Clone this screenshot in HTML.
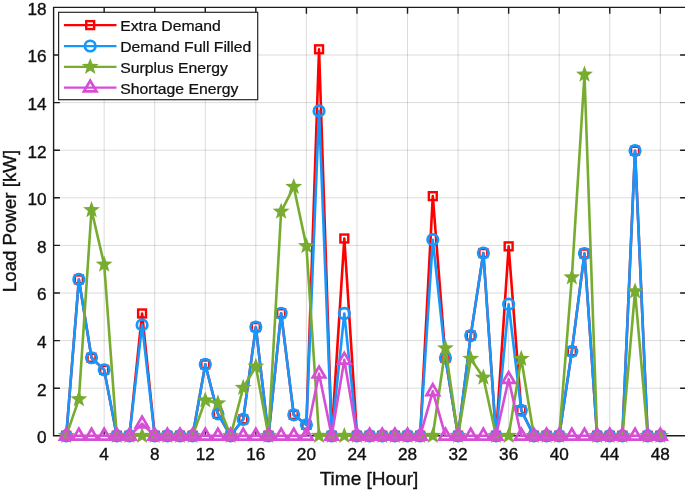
<!DOCTYPE html>
<html><head><meta charset="utf-8"><title>Load Power</title>
<style>html,body{margin:0;padding:0;background:#fff;overflow:hidden}svg{display:block}</style></head>
<body>
<svg width="685" height="491" viewBox="0 0 685 491" style="display:block">
<rect width="685" height="491" fill="#fff"/>
<path d="M104.16 7.40V435.80M154.72 7.40V435.80M205.28 7.40V435.80M255.84 7.40V435.80M306.40 7.40V435.80M356.96 7.40V435.80M407.52 7.40V435.80M458.08 7.40V435.80M508.64 7.40V435.80M559.20 7.40V435.80M609.76 7.40V435.80M660.32 7.40V435.80" stroke="#000" stroke-opacity="0.14" stroke-width="1" fill="none"/>
<path d="M53.60 388.20H686.40M53.60 340.60H686.40M53.60 293.00H686.40M53.60 245.40H686.40M53.60 197.80H686.40M53.60 150.20H686.40M53.60 102.60H686.40M53.60 55.00H686.40" stroke="#000" stroke-opacity="0.14" stroke-width="1" fill="none"/>
<path d="M53.60 7.40H686.40V435.80H53.60ZM104.16 7.40v6.3M104.16 435.80v-6.3M154.72 7.40v6.3M154.72 435.80v-6.3M205.28 7.40v6.3M205.28 435.80v-6.3M255.84 7.40v6.3M255.84 435.80v-6.3M306.40 7.40v6.3M306.40 435.80v-6.3M356.96 7.40v6.3M356.96 435.80v-6.3M407.52 7.40v6.3M407.52 435.80v-6.3M458.08 7.40v6.3M458.08 435.80v-6.3M508.64 7.40v6.3M508.64 435.80v-6.3M559.20 7.40v6.3M559.20 435.80v-6.3M609.76 7.40v6.3M609.76 435.80v-6.3M660.32 7.40v6.3M660.32 435.80v-6.3M53.60 388.20h6.3M686.40 388.20h-6.3M53.60 340.60h6.3M686.40 340.60h-6.3M53.60 293.00h6.3M686.40 293.00h-6.3M53.60 245.40h6.3M686.40 245.40h-6.3M53.60 197.80h6.3M686.40 197.80h-6.3M53.60 150.20h6.3M686.40 150.20h-6.3M53.60 102.60h6.3M686.40 102.60h-6.3M53.60 55.00h6.3M686.40 55.00h-6.3" stroke="#1c1c1c" stroke-width="1.4" fill="none"/>
<g>
<polyline points="66.24,435.80 78.88,279.43 91.52,357.74 104.16,369.87 116.80,435.80 129.44,435.80 142.08,313.47 154.72,435.80 167.36,435.80 180.00,435.80 192.64,435.80 205.28,364.40 217.92,413.90 230.56,435.80 243.20,419.38 255.84,327.03 268.48,435.80 281.12,313.23 293.76,414.86 306.40,424.85 319.04,49.29 331.68,435.80 344.32,238.50 356.96,435.80 369.60,435.80 382.24,435.80 394.88,435.80 407.52,435.80 420.16,435.80 432.80,196.13 445.44,357.97 458.08,435.80 470.72,335.60 483.36,253.02 496.00,435.80 508.64,246.35 521.28,410.33 533.92,435.80 546.56,435.80 559.20,435.80 571.84,351.31 584.48,253.49 597.12,435.80 609.76,435.80 622.40,435.80 635.04,150.68 647.68,435.80 660.32,435.80" fill="none" stroke="#FF0000" stroke-width="2.6" stroke-linejoin="round"/>
<rect x="62.29" y="431.85" width="7.9" height="7.9" fill="none" stroke="#FF0000" stroke-width="2.4"/>
<rect x="74.93" y="275.48" width="7.9" height="7.9" fill="none" stroke="#FF0000" stroke-width="2.4"/>
<rect x="87.57" y="353.79" width="7.9" height="7.9" fill="none" stroke="#FF0000" stroke-width="2.4"/>
<rect x="100.21" y="365.92" width="7.9" height="7.9" fill="none" stroke="#FF0000" stroke-width="2.4"/>
<rect x="112.85" y="431.85" width="7.9" height="7.9" fill="none" stroke="#FF0000" stroke-width="2.4"/>
<rect x="125.49" y="431.85" width="7.9" height="7.9" fill="none" stroke="#FF0000" stroke-width="2.4"/>
<rect x="138.13" y="309.52" width="7.9" height="7.9" fill="none" stroke="#FF0000" stroke-width="2.4"/>
<rect x="150.77" y="431.85" width="7.9" height="7.9" fill="none" stroke="#FF0000" stroke-width="2.4"/>
<rect x="163.41" y="431.85" width="7.9" height="7.9" fill="none" stroke="#FF0000" stroke-width="2.4"/>
<rect x="176.05" y="431.85" width="7.9" height="7.9" fill="none" stroke="#FF0000" stroke-width="2.4"/>
<rect x="188.69" y="431.85" width="7.9" height="7.9" fill="none" stroke="#FF0000" stroke-width="2.4"/>
<rect x="201.33" y="360.45" width="7.9" height="7.9" fill="none" stroke="#FF0000" stroke-width="2.4"/>
<rect x="213.97" y="409.95" width="7.9" height="7.9" fill="none" stroke="#FF0000" stroke-width="2.4"/>
<rect x="226.61" y="431.85" width="7.9" height="7.9" fill="none" stroke="#FF0000" stroke-width="2.4"/>
<rect x="239.25" y="415.43" width="7.9" height="7.9" fill="none" stroke="#FF0000" stroke-width="2.4"/>
<rect x="251.89" y="323.08" width="7.9" height="7.9" fill="none" stroke="#FF0000" stroke-width="2.4"/>
<rect x="264.53" y="431.85" width="7.9" height="7.9" fill="none" stroke="#FF0000" stroke-width="2.4"/>
<rect x="277.17" y="309.28" width="7.9" height="7.9" fill="none" stroke="#FF0000" stroke-width="2.4"/>
<rect x="289.81" y="410.91" width="7.9" height="7.9" fill="none" stroke="#FF0000" stroke-width="2.4"/>
<rect x="302.45" y="420.90" width="7.9" height="7.9" fill="none" stroke="#FF0000" stroke-width="2.4"/>
<rect x="315.09" y="45.34" width="7.9" height="7.9" fill="none" stroke="#FF0000" stroke-width="2.4"/>
<rect x="327.73" y="431.85" width="7.9" height="7.9" fill="none" stroke="#FF0000" stroke-width="2.4"/>
<rect x="340.37" y="234.55" width="7.9" height="7.9" fill="none" stroke="#FF0000" stroke-width="2.4"/>
<rect x="353.01" y="431.85" width="7.9" height="7.9" fill="none" stroke="#FF0000" stroke-width="2.4"/>
<rect x="365.65" y="431.85" width="7.9" height="7.9" fill="none" stroke="#FF0000" stroke-width="2.4"/>
<rect x="378.29" y="431.85" width="7.9" height="7.9" fill="none" stroke="#FF0000" stroke-width="2.4"/>
<rect x="390.93" y="431.85" width="7.9" height="7.9" fill="none" stroke="#FF0000" stroke-width="2.4"/>
<rect x="403.57" y="431.85" width="7.9" height="7.9" fill="none" stroke="#FF0000" stroke-width="2.4"/>
<rect x="416.21" y="431.85" width="7.9" height="7.9" fill="none" stroke="#FF0000" stroke-width="2.4"/>
<rect x="428.85" y="192.18" width="7.9" height="7.9" fill="none" stroke="#FF0000" stroke-width="2.4"/>
<rect x="441.49" y="354.02" width="7.9" height="7.9" fill="none" stroke="#FF0000" stroke-width="2.4"/>
<rect x="454.13" y="431.85" width="7.9" height="7.9" fill="none" stroke="#FF0000" stroke-width="2.4"/>
<rect x="466.77" y="331.65" width="7.9" height="7.9" fill="none" stroke="#FF0000" stroke-width="2.4"/>
<rect x="479.41" y="249.07" width="7.9" height="7.9" fill="none" stroke="#FF0000" stroke-width="2.4"/>
<rect x="492.05" y="431.85" width="7.9" height="7.9" fill="none" stroke="#FF0000" stroke-width="2.4"/>
<rect x="504.69" y="242.40" width="7.9" height="7.9" fill="none" stroke="#FF0000" stroke-width="2.4"/>
<rect x="517.33" y="406.38" width="7.9" height="7.9" fill="none" stroke="#FF0000" stroke-width="2.4"/>
<rect x="529.97" y="431.85" width="7.9" height="7.9" fill="none" stroke="#FF0000" stroke-width="2.4"/>
<rect x="542.61" y="431.85" width="7.9" height="7.9" fill="none" stroke="#FF0000" stroke-width="2.4"/>
<rect x="555.25" y="431.85" width="7.9" height="7.9" fill="none" stroke="#FF0000" stroke-width="2.4"/>
<rect x="567.89" y="347.36" width="7.9" height="7.9" fill="none" stroke="#FF0000" stroke-width="2.4"/>
<rect x="580.53" y="249.54" width="7.9" height="7.9" fill="none" stroke="#FF0000" stroke-width="2.4"/>
<rect x="593.17" y="431.85" width="7.9" height="7.9" fill="none" stroke="#FF0000" stroke-width="2.4"/>
<rect x="605.81" y="431.85" width="7.9" height="7.9" fill="none" stroke="#FF0000" stroke-width="2.4"/>
<rect x="618.45" y="431.85" width="7.9" height="7.9" fill="none" stroke="#FF0000" stroke-width="2.4"/>
<rect x="631.09" y="146.73" width="7.9" height="7.9" fill="none" stroke="#FF0000" stroke-width="2.4"/>
<rect x="643.73" y="431.85" width="7.9" height="7.9" fill="none" stroke="#FF0000" stroke-width="2.4"/>
<rect x="656.37" y="431.85" width="7.9" height="7.9" fill="none" stroke="#FF0000" stroke-width="2.4"/>
</g>
<g>
<polyline points="66.24,435.80 78.88,279.43 91.52,357.74 104.16,369.87 116.80,435.80 129.44,435.80 142.08,324.89 154.72,435.80 167.36,435.80 180.00,435.80 192.64,435.80 205.28,364.40 217.92,413.90 230.56,435.80 243.20,419.38 255.84,327.03 268.48,435.80 281.12,313.23 293.76,414.86 306.40,424.85 319.04,110.93 331.68,435.80 344.32,313.47 356.96,435.80 369.60,435.80 382.24,435.80 394.88,435.80 407.52,435.80 420.16,435.80 432.80,239.69 445.44,357.97 458.08,435.80 470.72,335.60 483.36,253.02 496.00,435.80 508.64,304.19 521.28,410.33 533.92,435.80 546.56,435.80 559.20,435.80 571.84,351.31 584.48,253.49 597.12,435.80 609.76,435.80 622.40,435.80 635.04,150.68 647.68,435.80 660.32,435.80" fill="none" stroke="#1498FE" stroke-width="2.6" stroke-linejoin="round"/>
<circle cx="66.24" cy="435.80" r="5.25" fill="none" stroke="#1498FE" stroke-width="2.7"/>
<circle cx="78.88" cy="279.43" r="5.25" fill="none" stroke="#1498FE" stroke-width="2.7"/>
<circle cx="91.52" cy="357.74" r="5.25" fill="none" stroke="#1498FE" stroke-width="2.7"/>
<circle cx="104.16" cy="369.87" r="5.25" fill="none" stroke="#1498FE" stroke-width="2.7"/>
<circle cx="116.80" cy="435.80" r="5.25" fill="none" stroke="#1498FE" stroke-width="2.7"/>
<circle cx="129.44" cy="435.80" r="5.25" fill="none" stroke="#1498FE" stroke-width="2.7"/>
<circle cx="142.08" cy="324.89" r="5.25" fill="none" stroke="#1498FE" stroke-width="2.7"/>
<circle cx="154.72" cy="435.80" r="5.25" fill="none" stroke="#1498FE" stroke-width="2.7"/>
<circle cx="167.36" cy="435.80" r="5.25" fill="none" stroke="#1498FE" stroke-width="2.7"/>
<circle cx="180.00" cy="435.80" r="5.25" fill="none" stroke="#1498FE" stroke-width="2.7"/>
<circle cx="192.64" cy="435.80" r="5.25" fill="none" stroke="#1498FE" stroke-width="2.7"/>
<circle cx="205.28" cy="364.40" r="5.25" fill="none" stroke="#1498FE" stroke-width="2.7"/>
<circle cx="217.92" cy="413.90" r="5.25" fill="none" stroke="#1498FE" stroke-width="2.7"/>
<circle cx="230.56" cy="435.80" r="5.25" fill="none" stroke="#1498FE" stroke-width="2.7"/>
<circle cx="243.20" cy="419.38" r="5.25" fill="none" stroke="#1498FE" stroke-width="2.7"/>
<circle cx="255.84" cy="327.03" r="5.25" fill="none" stroke="#1498FE" stroke-width="2.7"/>
<circle cx="268.48" cy="435.80" r="5.25" fill="none" stroke="#1498FE" stroke-width="2.7"/>
<circle cx="281.12" cy="313.23" r="5.25" fill="none" stroke="#1498FE" stroke-width="2.7"/>
<circle cx="293.76" cy="414.86" r="5.25" fill="none" stroke="#1498FE" stroke-width="2.7"/>
<circle cx="306.40" cy="424.85" r="5.25" fill="none" stroke="#1498FE" stroke-width="2.7"/>
<circle cx="319.04" cy="110.93" r="5.25" fill="none" stroke="#1498FE" stroke-width="2.7"/>
<circle cx="331.68" cy="435.80" r="5.25" fill="none" stroke="#1498FE" stroke-width="2.7"/>
<circle cx="344.32" cy="313.47" r="5.25" fill="none" stroke="#1498FE" stroke-width="2.7"/>
<circle cx="356.96" cy="435.80" r="5.25" fill="none" stroke="#1498FE" stroke-width="2.7"/>
<circle cx="369.60" cy="435.80" r="5.25" fill="none" stroke="#1498FE" stroke-width="2.7"/>
<circle cx="382.24" cy="435.80" r="5.25" fill="none" stroke="#1498FE" stroke-width="2.7"/>
<circle cx="394.88" cy="435.80" r="5.25" fill="none" stroke="#1498FE" stroke-width="2.7"/>
<circle cx="407.52" cy="435.80" r="5.25" fill="none" stroke="#1498FE" stroke-width="2.7"/>
<circle cx="420.16" cy="435.80" r="5.25" fill="none" stroke="#1498FE" stroke-width="2.7"/>
<circle cx="432.80" cy="239.69" r="5.25" fill="none" stroke="#1498FE" stroke-width="2.7"/>
<circle cx="445.44" cy="357.97" r="5.25" fill="none" stroke="#1498FE" stroke-width="2.7"/>
<circle cx="458.08" cy="435.80" r="5.25" fill="none" stroke="#1498FE" stroke-width="2.7"/>
<circle cx="470.72" cy="335.60" r="5.25" fill="none" stroke="#1498FE" stroke-width="2.7"/>
<circle cx="483.36" cy="253.02" r="5.25" fill="none" stroke="#1498FE" stroke-width="2.7"/>
<circle cx="496.00" cy="435.80" r="5.25" fill="none" stroke="#1498FE" stroke-width="2.7"/>
<circle cx="508.64" cy="304.19" r="5.25" fill="none" stroke="#1498FE" stroke-width="2.7"/>
<circle cx="521.28" cy="410.33" r="5.25" fill="none" stroke="#1498FE" stroke-width="2.7"/>
<circle cx="533.92" cy="435.80" r="5.25" fill="none" stroke="#1498FE" stroke-width="2.7"/>
<circle cx="546.56" cy="435.80" r="5.25" fill="none" stroke="#1498FE" stroke-width="2.7"/>
<circle cx="559.20" cy="435.80" r="5.25" fill="none" stroke="#1498FE" stroke-width="2.7"/>
<circle cx="571.84" cy="351.31" r="5.25" fill="none" stroke="#1498FE" stroke-width="2.7"/>
<circle cx="584.48" cy="253.49" r="5.25" fill="none" stroke="#1498FE" stroke-width="2.7"/>
<circle cx="597.12" cy="435.80" r="5.25" fill="none" stroke="#1498FE" stroke-width="2.7"/>
<circle cx="609.76" cy="435.80" r="5.25" fill="none" stroke="#1498FE" stroke-width="2.7"/>
<circle cx="622.40" cy="435.80" r="5.25" fill="none" stroke="#1498FE" stroke-width="2.7"/>
<circle cx="635.04" cy="150.68" r="5.25" fill="none" stroke="#1498FE" stroke-width="2.7"/>
<circle cx="647.68" cy="435.80" r="5.25" fill="none" stroke="#1498FE" stroke-width="2.7"/>
<circle cx="660.32" cy="435.80" r="5.25" fill="none" stroke="#1498FE" stroke-width="2.7"/>
</g>
<g>
<polyline points="66.24,435.80 78.88,399.15 91.52,209.94 104.16,264.44 116.80,435.80 129.44,435.80 142.08,435.80 154.72,435.80 167.36,435.80 180.00,435.80 192.64,435.80 205.28,400.34 217.92,403.19 230.56,435.80 243.20,387.72 255.84,366.54 268.48,435.80 281.12,211.60 293.76,186.85 306.40,246.11 319.04,435.80 331.68,435.80 344.32,435.80 356.96,435.80 369.60,435.80 382.24,435.80 394.88,435.80 407.52,435.80 420.16,435.80 432.80,435.80 445.44,348.22 458.08,435.80 470.72,358.69 483.36,377.49 496.00,435.80 508.64,435.80 521.28,358.69 533.92,435.80 546.56,435.80 559.20,435.80 571.84,277.29 584.48,74.52 597.12,435.80 609.76,435.80 622.40,435.80 635.04,291.33 647.68,435.80 660.32,435.80" fill="none" stroke="#77AC30" stroke-width="2.6" stroke-linejoin="round"/>
<polygon points="66.24,426.90 68.44,432.78 74.70,433.05 69.80,436.96 71.47,443.00 66.24,439.54 61.01,443.00 62.68,436.96 57.78,433.05 64.04,432.78" fill="#77AC30"/>
<polygon points="78.88,390.25 81.08,396.12 87.34,396.40 82.44,400.30 84.11,406.35 78.88,402.89 73.65,406.35 75.32,400.30 70.42,396.40 76.68,396.12" fill="#77AC30"/>
<polygon points="91.52,201.04 93.72,206.91 99.98,207.19 95.08,211.09 96.75,217.14 91.52,213.68 86.29,217.14 87.96,211.09 83.06,207.19 89.32,206.91" fill="#77AC30"/>
<polygon points="104.16,255.54 106.36,261.42 112.62,261.69 107.72,265.60 109.39,271.64 104.16,268.18 98.93,271.64 100.60,265.60 95.70,261.69 101.96,261.42" fill="#77AC30"/>
<polygon points="116.80,426.90 119.00,432.78 125.26,433.05 120.36,436.96 122.03,443.00 116.80,439.54 111.57,443.00 113.24,436.96 108.34,433.05 114.60,432.78" fill="#77AC30"/>
<polygon points="129.44,426.90 131.64,432.78 137.90,433.05 133.00,436.96 134.67,443.00 129.44,439.54 124.21,443.00 125.88,436.96 120.98,433.05 127.24,432.78" fill="#77AC30"/>
<polygon points="142.08,426.90 144.28,432.78 150.54,433.05 145.64,436.96 147.31,443.00 142.08,439.54 136.85,443.00 138.52,436.96 133.62,433.05 139.88,432.78" fill="#77AC30"/>
<polygon points="154.72,426.90 156.92,432.78 163.18,433.05 158.28,436.96 159.95,443.00 154.72,439.54 149.49,443.00 151.16,436.96 146.26,433.05 152.52,432.78" fill="#77AC30"/>
<polygon points="167.36,426.90 169.56,432.78 175.82,433.05 170.92,436.96 172.59,443.00 167.36,439.54 162.13,443.00 163.80,436.96 158.90,433.05 165.16,432.78" fill="#77AC30"/>
<polygon points="180.00,426.90 182.20,432.78 188.46,433.05 183.56,436.96 185.23,443.00 180.00,439.54 174.77,443.00 176.44,436.96 171.54,433.05 177.80,432.78" fill="#77AC30"/>
<polygon points="192.64,426.90 194.84,432.78 201.10,433.05 196.20,436.96 197.87,443.00 192.64,439.54 187.41,443.00 189.08,436.96 184.18,433.05 190.44,432.78" fill="#77AC30"/>
<polygon points="205.28,391.44 207.48,397.31 213.74,397.59 208.84,401.49 210.51,407.54 205.28,404.08 200.05,407.54 201.72,401.49 196.82,397.59 203.08,397.31" fill="#77AC30"/>
<polygon points="217.92,394.29 220.12,400.17 226.38,400.44 221.48,404.35 223.15,410.39 217.92,406.93 212.69,410.39 214.36,404.35 209.46,400.44 215.72,400.17" fill="#77AC30"/>
<polygon points="230.56,426.90 232.76,432.78 239.02,433.05 234.12,436.96 235.79,443.00 230.56,439.54 225.33,443.00 227.00,436.96 222.10,433.05 228.36,432.78" fill="#77AC30"/>
<polygon points="243.20,378.82 245.40,384.70 251.66,384.97 246.76,388.88 248.43,394.92 243.20,391.46 237.97,394.92 239.64,388.88 234.74,384.97 241.00,384.70" fill="#77AC30"/>
<polygon points="255.84,357.64 258.04,363.52 264.30,363.79 259.40,367.70 261.07,373.74 255.84,370.28 250.61,373.74 252.28,367.70 247.38,363.79 253.64,363.52" fill="#77AC30"/>
<polygon points="268.48,426.90 270.68,432.78 276.94,433.05 272.04,436.96 273.71,443.00 268.48,439.54 263.25,443.00 264.92,436.96 260.02,433.05 266.28,432.78" fill="#77AC30"/>
<polygon points="281.12,202.70 283.32,208.58 289.58,208.85 284.68,212.76 286.35,218.80 281.12,215.34 275.89,218.80 277.56,212.76 272.66,208.85 278.92,208.58" fill="#77AC30"/>
<polygon points="293.76,177.95 295.96,183.83 302.22,184.10 297.32,188.01 298.99,194.05 293.76,190.59 288.53,194.05 290.20,188.01 285.30,184.10 291.56,183.83" fill="#77AC30"/>
<polygon points="306.40,237.21 308.60,243.09 314.86,243.36 309.96,247.27 311.63,253.31 306.40,249.85 301.17,253.31 302.84,247.27 297.94,243.36 304.20,243.09" fill="#77AC30"/>
<polygon points="319.04,426.90 321.24,432.78 327.50,433.05 322.60,436.96 324.27,443.00 319.04,439.54 313.81,443.00 315.48,436.96 310.58,433.05 316.84,432.78" fill="#77AC30"/>
<polygon points="331.68,426.90 333.88,432.78 340.14,433.05 335.24,436.96 336.91,443.00 331.68,439.54 326.45,443.00 328.12,436.96 323.22,433.05 329.48,432.78" fill="#77AC30"/>
<polygon points="344.32,426.90 346.52,432.78 352.78,433.05 347.88,436.96 349.55,443.00 344.32,439.54 339.09,443.00 340.76,436.96 335.86,433.05 342.12,432.78" fill="#77AC30"/>
<polygon points="356.96,426.90 359.16,432.78 365.42,433.05 360.52,436.96 362.19,443.00 356.96,439.54 351.73,443.00 353.40,436.96 348.50,433.05 354.76,432.78" fill="#77AC30"/>
<polygon points="369.60,426.90 371.80,432.78 378.06,433.05 373.16,436.96 374.83,443.00 369.60,439.54 364.37,443.00 366.04,436.96 361.14,433.05 367.40,432.78" fill="#77AC30"/>
<polygon points="382.24,426.90 384.44,432.78 390.70,433.05 385.80,436.96 387.47,443.00 382.24,439.54 377.01,443.00 378.68,436.96 373.78,433.05 380.04,432.78" fill="#77AC30"/>
<polygon points="394.88,426.90 397.08,432.78 403.34,433.05 398.44,436.96 400.11,443.00 394.88,439.54 389.65,443.00 391.32,436.96 386.42,433.05 392.68,432.78" fill="#77AC30"/>
<polygon points="407.52,426.90 409.72,432.78 415.98,433.05 411.08,436.96 412.75,443.00 407.52,439.54 402.29,443.00 403.96,436.96 399.06,433.05 405.32,432.78" fill="#77AC30"/>
<polygon points="420.16,426.90 422.36,432.78 428.62,433.05 423.72,436.96 425.39,443.00 420.16,439.54 414.93,443.00 416.60,436.96 411.70,433.05 417.96,432.78" fill="#77AC30"/>
<polygon points="432.80,426.90 435.00,432.78 441.26,433.05 436.36,436.96 438.03,443.00 432.80,439.54 427.57,443.00 429.24,436.96 424.34,433.05 430.60,432.78" fill="#77AC30"/>
<polygon points="445.44,339.32 447.64,345.19 453.90,345.47 449.00,349.37 450.67,355.42 445.44,351.95 440.21,355.42 441.88,349.37 436.98,345.47 443.24,345.19" fill="#77AC30"/>
<polygon points="458.08,426.90 460.28,432.78 466.54,433.05 461.64,436.96 463.31,443.00 458.08,439.54 452.85,443.00 454.52,436.96 449.62,433.05 455.88,432.78" fill="#77AC30"/>
<polygon points="470.72,349.79 472.92,355.66 479.18,355.94 474.28,359.84 475.95,365.89 470.72,362.43 465.49,365.89 467.16,359.84 462.26,355.94 468.52,355.66" fill="#77AC30"/>
<polygon points="483.36,368.59 485.56,374.47 491.82,374.74 486.92,378.65 488.59,384.69 483.36,381.23 478.13,384.69 479.80,378.65 474.90,374.74 481.16,374.47" fill="#77AC30"/>
<polygon points="496.00,426.90 498.20,432.78 504.46,433.05 499.56,436.96 501.23,443.00 496.00,439.54 490.77,443.00 492.44,436.96 487.54,433.05 493.80,432.78" fill="#77AC30"/>
<polygon points="508.64,426.90 510.84,432.78 517.10,433.05 512.20,436.96 513.87,443.00 508.64,439.54 503.41,443.00 505.08,436.96 500.18,433.05 506.44,432.78" fill="#77AC30"/>
<polygon points="521.28,349.79 523.48,355.66 529.74,355.94 524.84,359.84 526.51,365.89 521.28,362.43 516.05,365.89 517.72,359.84 512.82,355.94 519.08,355.66" fill="#77AC30"/>
<polygon points="533.92,426.90 536.12,432.78 542.38,433.05 537.48,436.96 539.15,443.00 533.92,439.54 528.69,443.00 530.36,436.96 525.46,433.05 531.72,432.78" fill="#77AC30"/>
<polygon points="546.56,426.90 548.76,432.78 555.02,433.05 550.12,436.96 551.79,443.00 546.56,439.54 541.33,443.00 543.00,436.96 538.10,433.05 544.36,432.78" fill="#77AC30"/>
<polygon points="559.20,426.90 561.40,432.78 567.66,433.05 562.76,436.96 564.43,443.00 559.20,439.54 553.97,443.00 555.64,436.96 550.74,433.05 557.00,432.78" fill="#77AC30"/>
<polygon points="571.84,268.39 574.04,274.27 580.30,274.54 575.40,278.45 577.07,284.49 571.84,281.03 566.61,284.49 568.28,278.45 563.38,274.54 569.64,274.27" fill="#77AC30"/>
<polygon points="584.48,65.62 586.68,71.49 592.94,71.77 588.04,75.67 589.71,81.72 584.48,78.25 579.25,81.72 580.92,75.67 576.02,71.77 582.28,71.49" fill="#77AC30"/>
<polygon points="597.12,426.90 599.32,432.78 605.58,433.05 600.68,436.96 602.35,443.00 597.12,439.54 591.89,443.00 593.56,436.96 588.66,433.05 594.92,432.78" fill="#77AC30"/>
<polygon points="609.76,426.90 611.96,432.78 618.22,433.05 613.32,436.96 614.99,443.00 609.76,439.54 604.53,443.00 606.20,436.96 601.30,433.05 607.56,432.78" fill="#77AC30"/>
<polygon points="622.40,426.90 624.60,432.78 630.86,433.05 625.96,436.96 627.63,443.00 622.40,439.54 617.17,443.00 618.84,436.96 613.94,433.05 620.20,432.78" fill="#77AC30"/>
<polygon points="635.04,282.43 637.24,288.31 643.50,288.58 638.60,292.49 640.27,298.53 635.04,295.07 629.81,298.53 631.48,292.49 626.58,288.58 632.84,288.31" fill="#77AC30"/>
<polygon points="647.68,426.90 649.88,432.78 656.14,433.05 651.24,436.96 652.91,443.00 647.68,439.54 642.45,443.00 644.12,436.96 639.22,433.05 645.48,432.78" fill="#77AC30"/>
<polygon points="660.32,426.90 662.52,432.78 668.78,433.05 663.88,436.96 665.55,443.00 660.32,439.54 655.09,443.00 656.76,436.96 651.86,433.05 658.12,432.78" fill="#77AC30"/>
</g>
<g>
<polyline points="66.24,435.80 78.88,435.80 91.52,435.80 104.16,435.80 116.80,435.80 129.44,435.80 142.08,423.66 154.72,435.80 167.36,435.80 180.00,435.80 192.64,435.80 205.28,435.80 217.92,435.80 230.56,435.80 243.20,435.80 255.84,435.80 268.48,435.80 281.12,435.80 293.76,435.80 306.40,435.80 319.04,373.68 331.68,435.80 344.32,359.88 356.96,435.80 369.60,435.80 382.24,435.80 394.88,435.80 407.52,435.80 420.16,435.80 432.80,391.29 445.44,435.80 458.08,435.80 470.72,435.80 483.36,435.80 496.00,435.80 508.64,379.16 521.28,435.80 533.92,435.80 546.56,435.80 559.20,435.80 571.84,435.80 584.48,435.80 597.12,435.80 609.76,435.80 622.40,435.80 635.04,435.80 647.68,435.80 660.32,435.80" fill="none" stroke="#D64DD6" stroke-width="2.6" stroke-linejoin="round"/>
<polygon points="66.24,428.80 72.54,439.60 59.94,439.60" fill="none" stroke="#D64DD6" stroke-width="2.7" stroke-linejoin="miter"/>
<polygon points="78.88,428.80 85.18,439.60 72.58,439.60" fill="none" stroke="#D64DD6" stroke-width="2.7" stroke-linejoin="miter"/>
<polygon points="91.52,428.80 97.82,439.60 85.22,439.60" fill="none" stroke="#D64DD6" stroke-width="2.7" stroke-linejoin="miter"/>
<polygon points="104.16,428.80 110.46,439.60 97.86,439.60" fill="none" stroke="#D64DD6" stroke-width="2.7" stroke-linejoin="miter"/>
<polygon points="116.80,428.80 123.10,439.60 110.50,439.60" fill="none" stroke="#D64DD6" stroke-width="2.7" stroke-linejoin="miter"/>
<polygon points="129.44,428.80 135.74,439.60 123.14,439.60" fill="none" stroke="#D64DD6" stroke-width="2.7" stroke-linejoin="miter"/>
<polygon points="142.08,416.66 148.38,427.46 135.78,427.46" fill="none" stroke="#D64DD6" stroke-width="2.7" stroke-linejoin="miter"/>
<polygon points="154.72,428.80 161.02,439.60 148.42,439.60" fill="none" stroke="#D64DD6" stroke-width="2.7" stroke-linejoin="miter"/>
<polygon points="167.36,428.80 173.66,439.60 161.06,439.60" fill="none" stroke="#D64DD6" stroke-width="2.7" stroke-linejoin="miter"/>
<polygon points="180.00,428.80 186.30,439.60 173.70,439.60" fill="none" stroke="#D64DD6" stroke-width="2.7" stroke-linejoin="miter"/>
<polygon points="192.64,428.80 198.94,439.60 186.34,439.60" fill="none" stroke="#D64DD6" stroke-width="2.7" stroke-linejoin="miter"/>
<polygon points="205.28,428.80 211.58,439.60 198.98,439.60" fill="none" stroke="#D64DD6" stroke-width="2.7" stroke-linejoin="miter"/>
<polygon points="217.92,428.80 224.22,439.60 211.62,439.60" fill="none" stroke="#D64DD6" stroke-width="2.7" stroke-linejoin="miter"/>
<polygon points="230.56,428.80 236.86,439.60 224.26,439.60" fill="none" stroke="#D64DD6" stroke-width="2.7" stroke-linejoin="miter"/>
<polygon points="243.20,428.80 249.50,439.60 236.90,439.60" fill="none" stroke="#D64DD6" stroke-width="2.7" stroke-linejoin="miter"/>
<polygon points="255.84,428.80 262.14,439.60 249.54,439.60" fill="none" stroke="#D64DD6" stroke-width="2.7" stroke-linejoin="miter"/>
<polygon points="268.48,428.80 274.78,439.60 262.18,439.60" fill="none" stroke="#D64DD6" stroke-width="2.7" stroke-linejoin="miter"/>
<polygon points="281.12,428.80 287.42,439.60 274.82,439.60" fill="none" stroke="#D64DD6" stroke-width="2.7" stroke-linejoin="miter"/>
<polygon points="293.76,428.80 300.06,439.60 287.46,439.60" fill="none" stroke="#D64DD6" stroke-width="2.7" stroke-linejoin="miter"/>
<polygon points="306.40,428.80 312.70,439.60 300.10,439.60" fill="none" stroke="#D64DD6" stroke-width="2.7" stroke-linejoin="miter"/>
<polygon points="319.04,366.68 325.34,377.48 312.74,377.48" fill="none" stroke="#D64DD6" stroke-width="2.7" stroke-linejoin="miter"/>
<polygon points="331.68,428.80 337.98,439.60 325.38,439.60" fill="none" stroke="#D64DD6" stroke-width="2.7" stroke-linejoin="miter"/>
<polygon points="344.32,352.88 350.62,363.68 338.02,363.68" fill="none" stroke="#D64DD6" stroke-width="2.7" stroke-linejoin="miter"/>
<polygon points="356.96,428.80 363.26,439.60 350.66,439.60" fill="none" stroke="#D64DD6" stroke-width="2.7" stroke-linejoin="miter"/>
<polygon points="369.60,428.80 375.90,439.60 363.30,439.60" fill="none" stroke="#D64DD6" stroke-width="2.7" stroke-linejoin="miter"/>
<polygon points="382.24,428.80 388.54,439.60 375.94,439.60" fill="none" stroke="#D64DD6" stroke-width="2.7" stroke-linejoin="miter"/>
<polygon points="394.88,428.80 401.18,439.60 388.58,439.60" fill="none" stroke="#D64DD6" stroke-width="2.7" stroke-linejoin="miter"/>
<polygon points="407.52,428.80 413.82,439.60 401.22,439.60" fill="none" stroke="#D64DD6" stroke-width="2.7" stroke-linejoin="miter"/>
<polygon points="420.16,428.80 426.46,439.60 413.86,439.60" fill="none" stroke="#D64DD6" stroke-width="2.7" stroke-linejoin="miter"/>
<polygon points="432.80,384.29 439.10,395.09 426.50,395.09" fill="none" stroke="#D64DD6" stroke-width="2.7" stroke-linejoin="miter"/>
<polygon points="445.44,428.80 451.74,439.60 439.14,439.60" fill="none" stroke="#D64DD6" stroke-width="2.7" stroke-linejoin="miter"/>
<polygon points="458.08,428.80 464.38,439.60 451.78,439.60" fill="none" stroke="#D64DD6" stroke-width="2.7" stroke-linejoin="miter"/>
<polygon points="470.72,428.80 477.02,439.60 464.42,439.60" fill="none" stroke="#D64DD6" stroke-width="2.7" stroke-linejoin="miter"/>
<polygon points="483.36,428.80 489.66,439.60 477.06,439.60" fill="none" stroke="#D64DD6" stroke-width="2.7" stroke-linejoin="miter"/>
<polygon points="496.00,428.80 502.30,439.60 489.70,439.60" fill="none" stroke="#D64DD6" stroke-width="2.7" stroke-linejoin="miter"/>
<polygon points="508.64,372.16 514.94,382.96 502.34,382.96" fill="none" stroke="#D64DD6" stroke-width="2.7" stroke-linejoin="miter"/>
<polygon points="521.28,428.80 527.58,439.60 514.98,439.60" fill="none" stroke="#D64DD6" stroke-width="2.7" stroke-linejoin="miter"/>
<polygon points="533.92,428.80 540.22,439.60 527.62,439.60" fill="none" stroke="#D64DD6" stroke-width="2.7" stroke-linejoin="miter"/>
<polygon points="546.56,428.80 552.86,439.60 540.26,439.60" fill="none" stroke="#D64DD6" stroke-width="2.7" stroke-linejoin="miter"/>
<polygon points="559.20,428.80 565.50,439.60 552.90,439.60" fill="none" stroke="#D64DD6" stroke-width="2.7" stroke-linejoin="miter"/>
<polygon points="571.84,428.80 578.14,439.60 565.54,439.60" fill="none" stroke="#D64DD6" stroke-width="2.7" stroke-linejoin="miter"/>
<polygon points="584.48,428.80 590.78,439.60 578.18,439.60" fill="none" stroke="#D64DD6" stroke-width="2.7" stroke-linejoin="miter"/>
<polygon points="597.12,428.80 603.42,439.60 590.82,439.60" fill="none" stroke="#D64DD6" stroke-width="2.7" stroke-linejoin="miter"/>
<polygon points="609.76,428.80 616.06,439.60 603.46,439.60" fill="none" stroke="#D64DD6" stroke-width="2.7" stroke-linejoin="miter"/>
<polygon points="622.40,428.80 628.70,439.60 616.10,439.60" fill="none" stroke="#D64DD6" stroke-width="2.7" stroke-linejoin="miter"/>
<polygon points="635.04,428.80 641.34,439.60 628.74,439.60" fill="none" stroke="#D64DD6" stroke-width="2.7" stroke-linejoin="miter"/>
<polygon points="647.68,428.80 653.98,439.60 641.38,439.60" fill="none" stroke="#D64DD6" stroke-width="2.7" stroke-linejoin="miter"/>
<polygon points="660.32,428.80 666.62,439.60 654.02,439.60" fill="none" stroke="#D64DD6" stroke-width="2.7" stroke-linejoin="miter"/>
</g>
<rect x="58.6" y="12.3" width="199.10" height="87.40" fill="#fff" stroke="#262626" stroke-width="1.2"/>
<path d="M63.9 25.1H116.5" stroke="#FF0000" stroke-width="2.25" fill="none"/>
<rect x="86.25" y="21.15" width="7.9" height="7.9" fill="none" stroke="#FF0000" stroke-width="2.4"/>
<text transform="translate(120.2,31.40) scale(1.146,1)" font-family="'Liberation Sans', Arial, Helvetica, sans-serif" font-size="13.75" fill="#101010" stroke="#101010" stroke-width="0.22">Extra Demand</text>
<path d="M63.9 46.0H116.5" stroke="#1498FE" stroke-width="2.25" fill="none"/>
<circle cx="90.20" cy="46.00" r="5.25" fill="none" stroke="#1498FE" stroke-width="2.7"/>
<text transform="translate(120.2,52.30) scale(1.146,1)" font-family="'Liberation Sans', Arial, Helvetica, sans-serif" font-size="13.75" fill="#101010" stroke="#101010" stroke-width="0.22">Demand Full Filled</text>
<path d="M63.9 66.8H116.5" stroke="#77AC30" stroke-width="2.25" fill="none"/>
<polygon points="90.20,57.90 92.40,63.78 98.66,64.05 93.76,67.96 95.43,74.00 90.20,70.54 84.97,74.00 86.64,67.96 81.74,64.05 88.00,63.78" fill="#77AC30"/>
<text transform="translate(120.2,73.10) scale(1.146,1)" font-family="'Liberation Sans', Arial, Helvetica, sans-serif" font-size="13.75" fill="#101010" stroke="#101010" stroke-width="0.22">Surplus Energy</text>
<path d="M63.9 87.6H116.5" stroke="#D64DD6" stroke-width="2.25" fill="none"/>
<polygon points="90.20,80.60 96.50,91.40 83.90,91.40" fill="none" stroke="#D64DD6" stroke-width="2.7" stroke-linejoin="miter"/>
<text transform="translate(120.2,93.90) scale(1.146,1)" font-family="'Liberation Sans', Arial, Helvetica, sans-serif" font-size="13.75" fill="#101010" stroke="#101010" stroke-width="0.22">Shortage Energy</text>
<text transform="translate(104.16,460.1) scale(1.036,1)" text-anchor="middle" font-family="'Liberation Sans', Arial, Helvetica, sans-serif" font-size="16.6" fill="#101010" stroke="#101010" stroke-width="0.35">4</text>
<text transform="translate(154.72,460.1) scale(1.036,1)" text-anchor="middle" font-family="'Liberation Sans', Arial, Helvetica, sans-serif" font-size="16.6" fill="#101010" stroke="#101010" stroke-width="0.35">8</text>
<text transform="translate(205.28,460.1) scale(1.036,1)" text-anchor="middle" font-family="'Liberation Sans', Arial, Helvetica, sans-serif" font-size="16.6" fill="#101010" stroke="#101010" stroke-width="0.35">12</text>
<text transform="translate(255.84,460.1) scale(1.036,1)" text-anchor="middle" font-family="'Liberation Sans', Arial, Helvetica, sans-serif" font-size="16.6" fill="#101010" stroke="#101010" stroke-width="0.35">16</text>
<text transform="translate(306.40,460.1) scale(1.036,1)" text-anchor="middle" font-family="'Liberation Sans', Arial, Helvetica, sans-serif" font-size="16.6" fill="#101010" stroke="#101010" stroke-width="0.35">20</text>
<text transform="translate(356.96,460.1) scale(1.036,1)" text-anchor="middle" font-family="'Liberation Sans', Arial, Helvetica, sans-serif" font-size="16.6" fill="#101010" stroke="#101010" stroke-width="0.35">24</text>
<text transform="translate(407.52,460.1) scale(1.036,1)" text-anchor="middle" font-family="'Liberation Sans', Arial, Helvetica, sans-serif" font-size="16.6" fill="#101010" stroke="#101010" stroke-width="0.35">28</text>
<text transform="translate(458.08,460.1) scale(1.036,1)" text-anchor="middle" font-family="'Liberation Sans', Arial, Helvetica, sans-serif" font-size="16.6" fill="#101010" stroke="#101010" stroke-width="0.35">32</text>
<text transform="translate(508.64,460.1) scale(1.036,1)" text-anchor="middle" font-family="'Liberation Sans', Arial, Helvetica, sans-serif" font-size="16.6" fill="#101010" stroke="#101010" stroke-width="0.35">36</text>
<text transform="translate(559.20,460.1) scale(1.036,1)" text-anchor="middle" font-family="'Liberation Sans', Arial, Helvetica, sans-serif" font-size="16.6" fill="#101010" stroke="#101010" stroke-width="0.35">40</text>
<text transform="translate(609.76,460.1) scale(1.036,1)" text-anchor="middle" font-family="'Liberation Sans', Arial, Helvetica, sans-serif" font-size="16.6" fill="#101010" stroke="#101010" stroke-width="0.35">44</text>
<text transform="translate(660.32,460.1) scale(1.036,1)" text-anchor="middle" font-family="'Liberation Sans', Arial, Helvetica, sans-serif" font-size="16.6" fill="#101010" stroke="#101010" stroke-width="0.35">48</text>
<text transform="translate(46.6,443.20) scale(1.036,1)" text-anchor="end" font-family="'Liberation Sans', Arial, Helvetica, sans-serif" font-size="16.6" fill="#101010" stroke="#101010" stroke-width="0.35">0</text>
<text transform="translate(46.6,395.60) scale(1.036,1)" text-anchor="end" font-family="'Liberation Sans', Arial, Helvetica, sans-serif" font-size="16.6" fill="#101010" stroke="#101010" stroke-width="0.35">2</text>
<text transform="translate(46.6,348.00) scale(1.036,1)" text-anchor="end" font-family="'Liberation Sans', Arial, Helvetica, sans-serif" font-size="16.6" fill="#101010" stroke="#101010" stroke-width="0.35">4</text>
<text transform="translate(46.6,300.40) scale(1.036,1)" text-anchor="end" font-family="'Liberation Sans', Arial, Helvetica, sans-serif" font-size="16.6" fill="#101010" stroke="#101010" stroke-width="0.35">6</text>
<text transform="translate(46.6,252.80) scale(1.036,1)" text-anchor="end" font-family="'Liberation Sans', Arial, Helvetica, sans-serif" font-size="16.6" fill="#101010" stroke="#101010" stroke-width="0.35">8</text>
<text transform="translate(46.6,205.20) scale(1.036,1)" text-anchor="end" font-family="'Liberation Sans', Arial, Helvetica, sans-serif" font-size="16.6" fill="#101010" stroke="#101010" stroke-width="0.35">10</text>
<text transform="translate(46.6,157.60) scale(1.036,1)" text-anchor="end" font-family="'Liberation Sans', Arial, Helvetica, sans-serif" font-size="16.6" fill="#101010" stroke="#101010" stroke-width="0.35">12</text>
<text transform="translate(46.6,110.00) scale(1.036,1)" text-anchor="end" font-family="'Liberation Sans', Arial, Helvetica, sans-serif" font-size="16.6" fill="#101010" stroke="#101010" stroke-width="0.35">14</text>
<text transform="translate(46.6,62.40) scale(1.036,1)" text-anchor="end" font-family="'Liberation Sans', Arial, Helvetica, sans-serif" font-size="16.6" fill="#101010" stroke="#101010" stroke-width="0.35">16</text>
<text transform="translate(46.6,14.80) scale(1.036,1)" text-anchor="end" font-family="'Liberation Sans', Arial, Helvetica, sans-serif" font-size="16.6" fill="#101010" stroke="#101010" stroke-width="0.35">18</text>
<text x="369.0" y="485" text-anchor="middle" font-family="'Liberation Sans', Arial, Helvetica, sans-serif" font-size="19" fill="#101010" stroke="#101010" stroke-width="0.35">Time [Hour]</text>
<text transform="translate(16.2,221.0) rotate(-90)" text-anchor="middle" font-family="'Liberation Sans', Arial, Helvetica, sans-serif" font-size="18.7" fill="#101010" stroke="#101010" stroke-width="0.35">Load Power [kW]</text>
</svg>
</body></html>
